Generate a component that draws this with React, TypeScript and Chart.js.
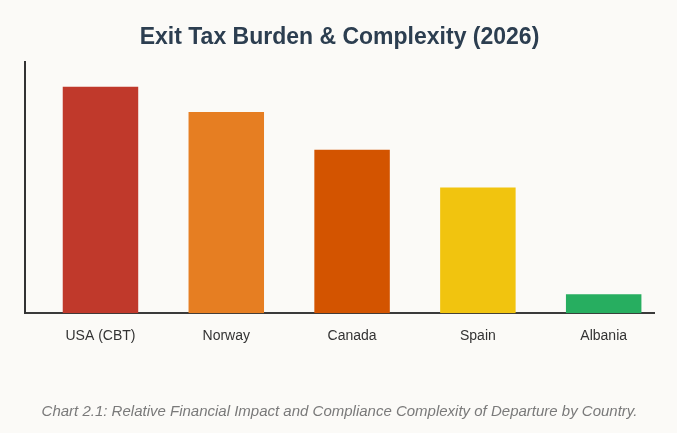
import React, { useEffect, useRef } from "react";
import { Chart, registerables } from "chart.js";

Chart.register(...registerables);

const categories = ["USA (CBT)", "Norway", "Canada", "Spain", "Albania"];
const values = [90, 80, 65, 50, 7.5];
const barColors = ["#c0392b", "#e67e22", "#d35400", "#f1c40f", "#27ae60"];
const titleText = "Exit Tax Burden & Complexity (2026)";
const captionText = "Chart 2.1: Relative Financial Impact and Compliance Complexity of Departure by Country.";

const FONT = "Helvetica, Arial, 'Liberation Sans', sans-serif";

export default function App() {
  const ref = useRef<HTMLCanvasElement | null>(null);

  useEffect(() => {
    document.body.style.margin = "0";
    document.body.style.background = "#fbfaf7";
    if (!ref.current) return;
    const chart = new Chart(ref.current, {
      type: "bar",
      data: {
        datasets: [
          {
            data: values.map((v, i) => ({ x: i, y: v })),
            backgroundColor: barColors,
            borderWidth: 0,
            barPercentage: 0.6,
            categoryPercentage: 1,
          },
        ],
      },
      options: {
        animation: false,
        responsive: false,
        maintainAspectRatio: false,
        layout: { padding: { left: 25, right: 23, top: 0, bottom: 0 } },
        plugins: {
          legend: { display: false },
          tooltip: { enabled: false },
          title: {
            display: true,
            text: titleText,
            color: "#2c3e50",
            font: { family: FONT, size: 23, weight: "bold" },
            padding: { top: 24, bottom: 10 },
          },
          subtitle: {
            display: true,
            position: "bottom",
            text: captionText,
            color: "#7a7a7a",
            font: { family: FONT, size: 15, style: "italic" },
            padding: { top: 43, bottom: 12 },
          },
        },
        scales: {
          x: {
            type: "linear",
            offset: false,
            min: -0.6,
            max: categories.length - 0.6,
            grid: { display: false, drawTicks: false },
            border: { display: true, color: "#3a3a3a", width: 2 },
            afterBuildTicks: (scale: any) => {
              scale.ticks = categories.map((_, i) => ({ value: i }));
            },
            ticks: {
              color: "#333",
              font: { family: FONT, size: 14 },
              padding: 15,
              autoSkip: false,
              maxRotation: 0,
              callback: (v: any) => categories[Math.round(Number(v))] ?? "",
            },
          },
          y: {
            min: 0,
            max: 100,
            grid: { display: false, drawTicks: false },
            border: { display: true, color: "#333", width: 2 },
            ticks: { display: false },
          },
        },
      },
    });
    return () => chart.destroy();
  }, []);

  return (
    <div style={{ width: 677, height: 433, background: "#fbfaf7" }}>
      <canvas ref={ref} width={677} height={433} style={{ display: "block" }} />
    </div>
  );
}
